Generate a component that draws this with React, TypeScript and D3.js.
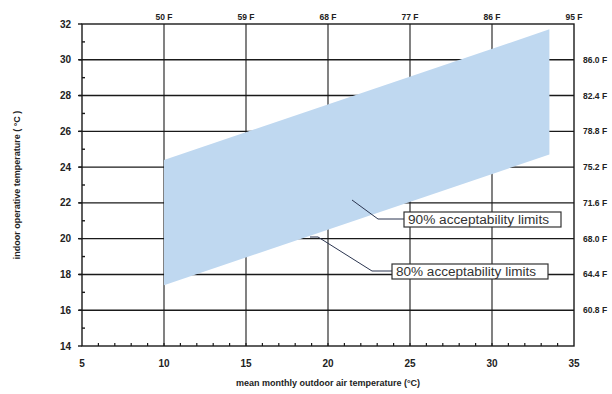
import React, { useEffect, useRef } from "react";
import * as d3 from "d3";

// band of acceptable indoor temperatures (80% limits)
const outdoorTemps = [10, 33.5];
const upperLimit = [24.4, 31.7];
const lowerLimit = [17.4, 24.7];

const xTicks = [5, 10, 15, 20, 25, 30, 35];
const yTicks = [14, 16, 18, 20, 22, 24, 26, 28, 30, 32];
const topLabels = ["50 F", "59 F", "68 F", "77 F", "86 F", "95 F"];
const topTicks = [10, 15, 20, 25, 30, 35];
const rightLabels = ["60.8 F", "64.4 F", "68.0 F", "71.6 F", "75.2 F", "78.8 F", "82.4 F", "86.0 F"];
const rightTicks = [16, 18, 20, 22, 24, 26, 28, 30];

const App = () => {
  const chartRef = useRef<SVGSVGElement>(null);

  useEffect(() => {
    const width = 612;
    const height = 394;
    const left = 82, right = 574, top = 24, bottom = 346;

    const svg = d3.select(chartRef.current);
    svg.selectAll("*").remove();
    svg.attr("width", width).attr("height", height);

    const x = d3.scaleLinear().domain([5, 35]).range([left, right]);
    const y = d3.scaleLinear().domain([14, 32]).range([bottom, top]);

    const font = "Liberation Sans, Arial, sans-serif";

    // horizontal grid lines
    svg
      .append("g")
      .selectAll("line")
      .data(yTicks.slice(1, -1))
      .join("line")
      .attr("x1", left - 3)
      .attr("x2", right)
      .attr("y1", (d) => y(d))
      .attr("y2", (d) => y(d))
      .attr("stroke", "#1a1a1a")
      .attr("stroke-width", 1.4);

    // vertical grid lines
    svg
      .append("g")
      .selectAll("line")
      .data(xTicks.slice(1, -1))
      .join("line")
      .attr("x1", (d) => x(d))
      .attr("x2", (d) => x(d))
      .attr("y1", top)
      .attr("y2", bottom)
      .attr("stroke", "#1a1a1a")
      .attr("stroke-width", 1.1);

    // band
    const band = outdoorTemps.map((t, i) => ({ t, hi: upperLimit[i], lo: lowerLimit[i] }));
    const area = d3
      .area<{ t: number; hi: number; lo: number }>()
      .x((d) => x(d.t))
      .y0((d) => y(d.lo))
      .y1((d) => y(d.hi));
    svg.append("path").datum(band).attr("d", area).attr("fill", "#bfd8f0");

    // frame
    svg
      .append("rect")
      .attr("x", left)
      .attr("y", top)
      .attr("width", right - left)
      .attr("height", bottom - top)
      .attr("fill", "none")
      .attr("stroke", "#1a1a1a")
      .attr("stroke-width", 1.4);

    // left ticks + labels
    svg
      .append("g")
      .selectAll("line")
      .data(yTicks)
      .join("line")
      .attr("x1", left - 4)
      .attr("x2", left)
      .attr("y1", (d) => y(d))
      .attr("y2", (d) => y(d))
      .attr("stroke", "#1a1a1a")
      .attr("stroke-width", 1.4);
    svg
      .append("g")
      .selectAll("line")
      .data(d3.range(15, 32, 2))
      .join("line")
      .attr("x1", left)
      .attr("x2", left + 3)
      .attr("y1", (d) => y(d))
      .attr("y2", (d) => y(d))
      .attr("stroke", "#1a1a1a")
      .attr("stroke-width", 1.4);
    svg
      .append("g")
      .selectAll("text")
      .data(yTicks)
      .join("text")
      .attr("x", left - 11)
      .attr("y", (d) => y(d))
      .attr("dy", "0.35em")
      .attr("text-anchor", "end")
      .style("font-family", font)
      .style("font-size", "10px")
      .style("font-weight", "bold")
      .attr("fill", "#222")
      .text((d) => d);

    // bottom ticks + labels
    svg
      .append("g")
      .selectAll("line")
      .data(d3.range(6, 35))
      .join("line")
      .attr("x1", (d) => x(d))
      .attr("x2", (d) => x(d))
      .attr("y1", bottom - 3)
      .attr("y2", bottom)
      .attr("stroke", "#1a1a1a")
      .attr("stroke-width", 1.2);
    svg
      .append("g")
      .selectAll("text")
      .data(xTicks)
      .join("text")
      .attr("x", (d) => x(d))
      .attr("y", bottom + 21)
      .attr("text-anchor", "middle")
      .style("font-family", font)
      .style("font-size", "10px")
      .style("font-weight", "bold")
      .attr("fill", "#222")
      .text((d) => d);

    // top Fahrenheit labels
    svg
      .append("g")
      .selectAll("text")
      .data(topTicks)
      .join("text")
      .attr("x", (d) => x(d))
      .attr("y", top - 4)
      .attr("text-anchor", "middle")
      .style("font-family", font)
      .style("font-size", "8.5px")
      .style("font-weight", "bold")
      .attr("fill", "#222")
      .text((d, i) => topLabels[i]);

    // right Fahrenheit labels
    svg
      .append("g")
      .selectAll("text")
      .data(rightTicks)
      .join("text")
      .attr("x", right + 9)
      .attr("y", (d) => y(d))
      .attr("dy", "0.35em")
      .style("font-family", font)
      .style("font-size", "8.5px")
      .style("font-weight", "bold")
      .attr("fill", "#222")
      .text((d, i) => rightLabels[i]);

    // annotations
    const notes = [
      { label: "90% acceptability limits", bx: 404, by: 212, bw: 157, path: [[352, 200], [378, 219], [404, 219]] },
      { label: "80% acceptability limits", bx: 392, by: 264, bw: 156, path: [[310, 237], [318, 237], [372, 271], [392, 271]] },
    ];
    notes.forEach((n) => {
      svg
        .append("path")
        .attr("d", d3.line()(n.path as [number, number][]))
        .attr("fill", "none")
        .attr("stroke", "#2b3550")
        .attr("stroke-width", 1);
      svg
        .append("rect")
        .attr("x", n.bx)
        .attr("y", n.by)
        .attr("width", n.bw)
        .attr("height", 15)
        .attr("fill", "#fff")
        .attr("stroke", "#333")
        .attr("stroke-width", 1.2);
      svg
        .append("text")
        .attr("x", n.bx + 4)
        .attr("y", n.by + 12)
        .attr("textLength", n.bw - 16)
        .attr("lengthAdjust", "spacingAndGlyphs")
        .style("font-family", font)
        .style("font-size", "12px")
        .attr("fill", "#333")
        .text(n.label);
    });

    // axis titles
    svg
      .append("text")
      .attr("x", (left + right) / 2)
      .attr("y", 386)
      .attr("text-anchor", "middle")
      .style("font-family", font)
      .style("font-size", "9px")
      .style("font-weight", "bold")
      .attr("fill", "#222")
      .text("mean monthly outdoor air temperature (°C)");
    svg
      .append("text")
      .attr("transform", `translate(20,${(top + bottom) / 2}) rotate(-90)`)
      .attr("text-anchor", "middle")
      .style("font-family", font)
      .style("font-size", "9px")
      .style("font-weight", "bold")
      .attr("fill", "#222")
      .text("indoor operative temperature ( °C )");
  }, []);

  return (
    <div style={{ position: "absolute", left: 0, top: 0 }}>
      <svg ref={chartRef}></svg>
    </div>
  );
};

export default App;
